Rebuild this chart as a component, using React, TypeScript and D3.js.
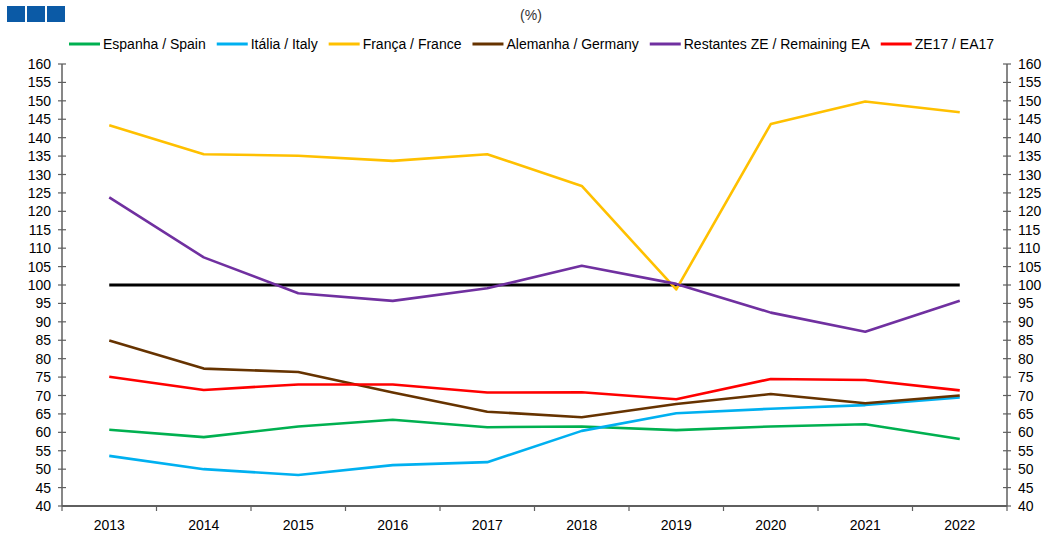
import React from "react";
import * as d3 from "d3";

const years = ["2013","2014","2015","2016","2017","2018","2019","2020","2021","2022"];
const spain = [60.7, 58.7, 61.6, 63.4, 61.4, 61.6, 60.6, 61.6, 62.2, 58.2];
const italy = [53.6, 50.0, 48.4, 51.1, 51.9, 60.4, 65.2, 66.4, 67.4, 69.5];
const france = [143.4, 135.5, 135.1, 133.7, 135.5, 126.9, 98.8, 143.7, 149.8, 146.9];
const germany = [84.9, 77.3, 76.4, 70.8, 65.6, 64.1, 67.7, 70.4, 67.9, 70.0];
const remaining = [123.8, 107.5, 97.75, 95.7, 99.1, 105.2, 100.3, 92.5, 87.3, 95.7];
const ea17 = [75.1, 71.5, 73.0, 73.0, 70.8, 70.9, 69.0, 74.5, 74.2, 71.4];
const reference = [100, 100, 100, 100, 100, 100, 100, 100, 100, 100];
const yTicks = d3.range(40, 161, 5);

const seriesNames = ["Espanha / Spain", "Itália / Italy", "França / France", "Alemanha / Germany", "Restantes ZE / Remaining EA", "ZE17 / EA17"];
const seriesColors = ["#00B050", "#00B0F0", "#FFC000", "#663300", "#7030A0", "#FF0000"];
const seriesValues = [spain, italy, france, germany, remaining, ea17];

const FONT = "'Liberation Sans', Arial, sans-serif";
const LEGEND_FS = 14;

export default function App() {
  const W = 1046, H = 536;
  const left = 62, right = 1007, top = 64, bottom = 506;
  const x = d3.scaleBand<string>().domain(years).range([left, right]).padding(0);
  const y = d3.scaleLinear().domain([40, 160]).range([bottom, top]);
  const cx = (i: number) => (x(years[i]) as number) + x.bandwidth() / 2;
  const line = d3.line<number>().x((_, i) => cx(i)).y((d) => y(d));

  const canvas = typeof document !== "undefined" ? document.createElement("canvas") : null;
  const ctx = canvas ? canvas.getContext("2d") : null;
  if (ctx) ctx.font = `${LEGEND_FS}px ${FONT}`;
  let lx = 69;
  const legendItems = seriesNames.map((n, i) => {
    const w = ctx ? ctx.measureText(n).width : n.length * 7;
    const item = { x: lx, name: n, color: seriesColors[i] };
    lx += 31 + 3 + w + 11;
    return item;
  });

  const axisColor = "#5f5f5f";
  const boundaries = d3.range(0, years.length + 1).map((i) => left + i * x.bandwidth());

  return (
    <svg width={W} height={H} style={{ position: "absolute", left: 0, top: 0, background: "#fff" }} fontFamily={FONT}>
      {[0, 1, 2].map((i) => (
        <rect key={i} x={7 + i * 20} y={6} width={18} height={16} fill="#0B5AA6" />
      ))}
      <text x={531} y={20} textAnchor="middle" fontSize={14} fill="#333">(%)</text>

      {legendItems.map((it) => (
        <g key={it.name}>
          <line x1={it.x} x2={it.x + 31} y1={44} y2={44} stroke={it.color} strokeWidth={3} />
          <text x={it.x + 34} y={49} fontSize={LEGEND_FS} fill="#000">{it.name}</text>
        </g>
      ))}

      <line x1={left} x2={left} y1={top} y2={bottom} stroke={axisColor} strokeWidth={1.5} />
      {yTicks.map((t) => (
        <g key={"l" + t}>
          <line x1={left - 4} x2={left + 4} y1={y(t)} y2={y(t)} stroke={axisColor} strokeWidth={1.2} />
          <text x={51} y={y(t) + 5} textAnchor="end" fontSize={14} fill="#000">{t}</text>
        </g>
      ))}
      <line x1={right} x2={right} y1={top} y2={bottom} stroke={axisColor} strokeWidth={1.5} />
      {yTicks.map((t) => (
        <g key={"r" + t}>
          <line x1={right - 4} x2={right + 4} y1={y(t)} y2={y(t)} stroke={axisColor} strokeWidth={1.2} />
          <text x={1018} y={y(t) + 5} textAnchor="start" fontSize={14} fill="#000">{t}</text>
        </g>
      ))}
      <line x1={left} x2={right} y1={bottom} y2={bottom} stroke={axisColor} strokeWidth={2} />
      {boundaries.map((b, i) => (
        <line key={"xt" + i} x1={b} x2={b} y1={bottom} y2={bottom + 5} stroke={axisColor} strokeWidth={1.2} />
      ))}
      {years.map((yr, i) => (
        <text key={yr} x={cx(i)} y={530} textAnchor="middle" fontSize={14} fill="#000">{yr}</text>
      ))}

      <path d={line(reference) || ""} fill="none" stroke="#000" strokeWidth={3} />
      {seriesValues.map((vals, i) => (
        <path key={seriesNames[i]} d={line(vals) || ""} fill="none" stroke={seriesColors[i]} strokeWidth={2.6} strokeLinejoin="round" />
      ))}
    </svg>
  );
}
